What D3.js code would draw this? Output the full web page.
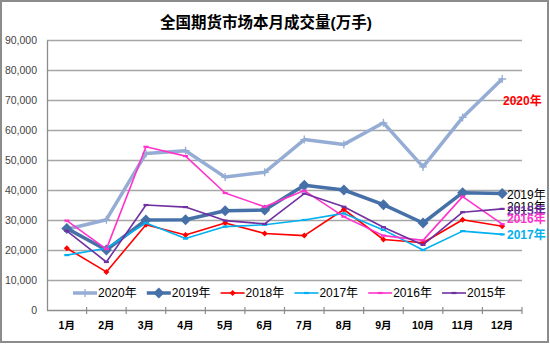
<!DOCTYPE html>
<html><head><meta charset="utf-8">
<script src="https://cdn.jsdelivr.net/npm/d3@7"></script>
<style>
html,body{margin:0;padding:0;background:#fff;}
svg{display:block;font-family:"Liberation Sans",Arial,"Noto Sans CJK SC",sans-serif;}
</style></head>
<body>
<svg id="c" width="550" height="344"></svg>
<script>
const months = ["1月","2月","3月","4月","5月","6月","7月","8月","9月","10月","11月","12月"];
const yTicks = [0,10000,20000,30000,40000,50000,60000,70000,80000,90000];
const seriesNames = ["2020年","2019年","2018年","2017年","2016年","2015年"];
const v2020 = [26900,30100,52200,53100,44300,45900,56800,55200,62400,47700,64200,77000];
const v2019 = [27200,20000,30000,30100,33100,33300,41600,40000,35100,29000,39100,38800];
const v2018 = [20600,12700,28400,25000,29000,25500,24800,33500,23500,22400,30100,27900];
const v2017 = [18300,20600,29000,23800,27800,28400,30000,32200,26700,20000,26300,25200];
const v2016 = [29800,20300,54400,51300,39000,34400,39800,31100,24800,23200,37800,28600];
const v2015 = [26400,16000,35000,34300,29800,28700,38800,34400,27600,21700,32600,33700];
const values = [v2020,v2019,v2018,v2017,v2016,v2015];
const colors = ["#95acd4","#4670a8","#ff0000","#00b0f0","#ff33cc","#7030a0"];
const widths = [3.5,3.5,1.6,1.6,1.6,1.6];
const markers = ["plus","bigdiamond","diamond","dash","dash","dash"];

const svg = d3.select("#c");
const L=47, R=522, T=40, B=310;
const x = d3.scaleBand().domain(months).range([L,R]);
const y = d3.scaleLinear().domain([0,90000]).range([B,T]);

// outer border
svg.append("rect").attr("x",1).attr("y",1).attr("width",547).attr("height",341)
  .attr("fill","#fff").attr("stroke","#8c8c8c").attr("stroke-width",2);

// title
svg.append("text").attr("x",266).attr("y",28).attr("text-anchor","middle")
  .attr("font-size",15.5).attr("font-weight","bold").attr("fill","#000")
  .text("全国期货市场本月成交量(万手)");

// gridlines
svg.append("g").selectAll("line").data(yTicks.filter(d=>d>0)).join("line")
  .attr("x1",L).attr("x2",R).attr("y1",d=>y(d)+0.5).attr("y2",d=>y(d)+0.5)
  .attr("stroke","#a6a6a6").attr("stroke-width",1.3);

// y axis
const ya = svg.append("g").attr("transform",`translate(${L},0)`)
  .call(d3.axisLeft(y).tickValues(yTicks).tickFormat(d3.format(",")).tickSize(0).tickPadding(10));
ya.select(".domain").attr("stroke","#8c8c8c").attr("stroke-width",1.3);
ya.selectAll("text").attr("font-size",10.5).attr("fill","#444").attr("font-family","Liberation Sans, Arial, sans-serif");

// x axis
svg.append("line").attr("x1",L).attr("x2",R).attr("y1",B+0.5).attr("y2",B+0.5)
  .attr("stroke","#8c8c8c").attr("stroke-width",1.3);
const bounds = months.map(m=>x(m)+x.bandwidth()).slice(0);
svg.append("g").selectAll("line").data(bounds).join("line")
  .attr("x1",d=>d).attr("x2",d=>d).attr("y1",B-3).attr("y2",B+4)
  .attr("stroke","#8c8c8c").attr("stroke-width",1.2);
svg.append("g").selectAll("text").data(months).join("text")
  .attr("x",d=>x(d)+x.bandwidth()/2).attr("y",B+19).attr("text-anchor","middle")
  .attr("font-size",10.5).attr("font-weight","bold").attr("fill","#000").text(d=>d);

const cx = i => x(months[i]) + x.bandwidth()/2;
const line = d3.line().x((d,i)=>cx(i)).y(d=>y(d));

function drawMarker(g, type, px, py, color){
  if(type==="plus"){
    g.append("path").attr("d",`M${px-4},${py}H${px+4}M${px},${py-4}V${py+4}`)
      .attr("stroke",color).attr("stroke-width",1.3).attr("fill","none");
  } else if(type==="bigdiamond"){
    const s=5.5;
    g.append("path").attr("d",`M${px},${py-s}L${px+s},${py}L${px},${py+s}L${px-s},${py}Z`).attr("fill",color);
  } else if(type==="diamond"){
    const s=3;
    g.append("path").attr("d",`M${px},${py-s}L${px+s},${py}L${px},${py+s}L${px-s},${py}Z`).attr("fill",color);
  } else {
    g.append("path").attr("d",`M${px-2.5},${py}H${px+2.5}`).attr("stroke",color).attr("stroke-width",2.2);
  }
}

// draw series
values.forEach((vals,si)=>{
  const g = svg.append("g");
  g.append("path").datum(vals).attr("d",line).attr("fill","none")
    .attr("stroke",colors[si]).attr("stroke-width",widths[si]).attr("stroke-linejoin","round");
  vals.forEach((v,i)=>drawMarker(g, markers[si], cx(i), y(v), colors[si]));
});

// legend
const lg = svg.append("g");
seriesNames.forEach((n,i)=>{
  const lx = 73 + i*73.8, ly = 293;
  lg.append("line").attr("x1",lx).attr("x2",lx+24).attr("y1",ly).attr("y2",ly)
    .attr("stroke",colors[i]).attr("stroke-width",widths[i]);
  drawMarker(lg, markers[i], lx+12, ly, colors[i]);
  lg.append("text").attr("x",lx+25).attr("y",ly+4).attr("font-size",12).attr("fill","#000").text(n);
});

// right labels
const labels = [
  {t:"2020年", y:100.5, c:"#ff0000", w:"bold", x:503},
  {t:"2019年", y:194, c:"#000", w:"normal", x:507},
  {t:"2018年", y:206.5, c:"#000", w:"normal", x:507},
  {t:"2015年", y:210.5, c:"#7030a0", w:"bold", x:507},
  {t:"2016年", y:218, c:"#ff33cc", w:"bold", x:507},
  {t:"2017年", y:234, c:"#00b0f0", w:"bold", x:507}
];
svg.append("g").selectAll("text").data(labels).join("text")
  .attr("x",d=>d.x).attr("y",d=>d.y+4.5).attr("font-size",12).attr("font-weight",d=>d.w)
  .attr("fill",d=>d.c).text(d=>d.t);
</script>
</body></html>
